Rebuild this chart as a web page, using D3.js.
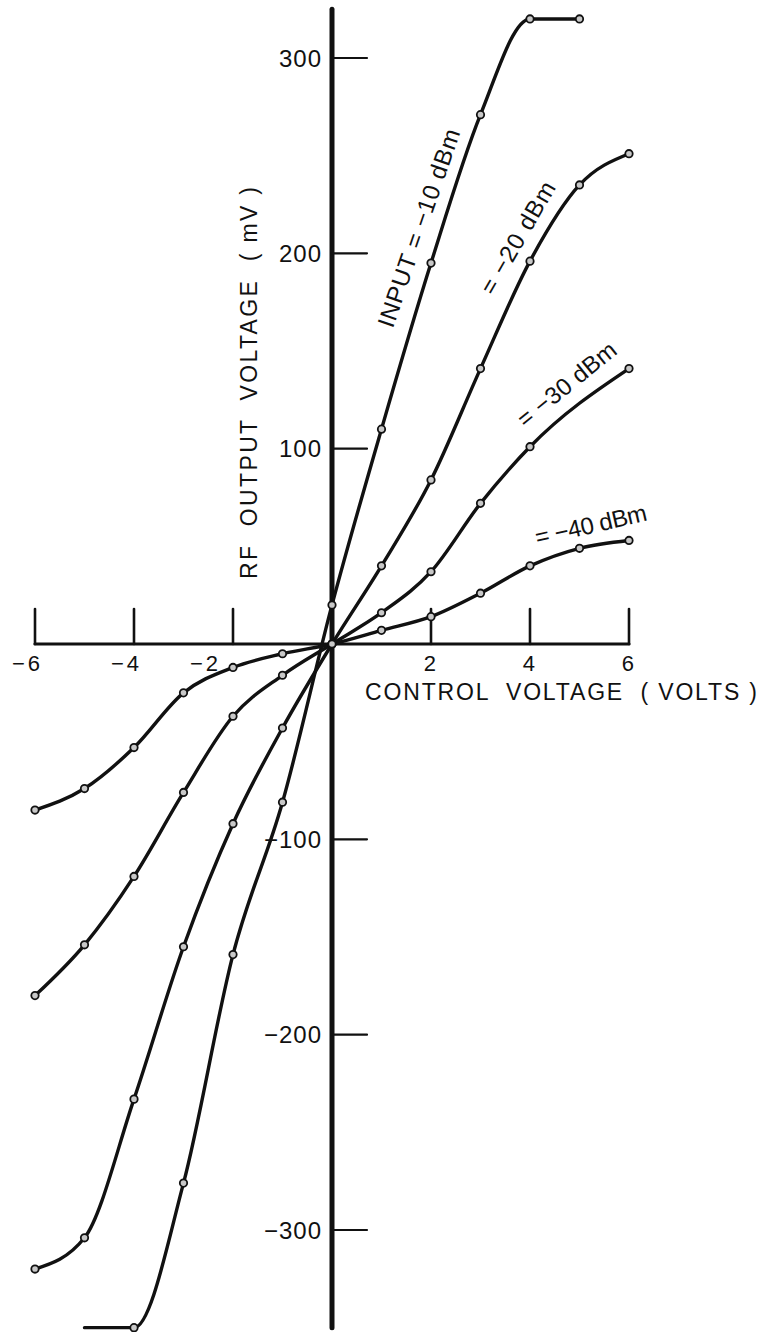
<!DOCTYPE html>
<html>
<head>
<meta charset="utf-8">
<script src="https://cdn.jsdelivr.net/npm/d3@7"></script>
<style>
  html, body { margin: 0; background: #fff; }
  svg { display: block; }
</style>
</head>
<body>
<script>
// Control voltage sweep (volts) and measured RF output (mV) for each input level
const volts = [-6, -5, -4, -3, -2, -1, 0, 1, 2, 3, 4, 5, 6];
const levelNames = ["INPUT = −10 dBm", "= −20 dBm", "= −30 dBm", "= −40 dBm"];
const outM10 = [null, -350, -350, -276, -159, -81, 20, 110, 195, 271, 320, 320, null];
const outM20 = [-320, -304, -233, -155, -92, -43, 0, 40, 84, 141, 196, 235, 251];
const outM30 = [-180, -154, -119, -76, -37, -16, 0, 16, 37, 72, 101, null, 141];
const outM40 = [-85, -74, -53, -25, -12, -5, 0, 7, 14, 26, 40, 49, 53];
const seriesValues = [outM10, outM20, outM30, outM40];

// the saturated tail of the −10 dBm curve runs on without a plotted point
const unmarkedPoints = [[0, -5]];

// axis ticks and their labels
const xTicks = [-6, -4, -2, 2, 4, 6];
const xTickLabels = ["−6", "−4", "−2", "2", "4", "6"];
const xTickLabelShift = [0, 0, -20, 0, 0, 0]; // keeps "−2" clear of the −40 dBm curve
const yTicks = [300, 200, 100, -100, -200, -300];
const yTickLabels = ["300", "200", "100", "−100", "−200", "−300"];

// curve captions: anchor in data units, rotation in degrees, drawn length
const captions = [
  { x: 1.75, y: 213, angle: -71, len: 208 },
  { x: 3.75, y: 208, angle: -60, len: 126 },
  { x: 4.74, y: 133, angle: -39, len: 120 },
  { x: 5.23, y: 61,  angle: -13, len: 114 }
];

const W = 768, H = 1332;
const ink = "#111";
const font = "'Liberation Sans', Arial, sans-serif";

const svg = d3.select("body").append("svg")
  .attr("width", W).attr("height", H)
  .attr("viewBox", `0 0 ${W} ${H}`);

const x = d3.scaleLinear().domain([-6, 6]).range([35, 629]);
const y = d3.scaleLinear().domain([-300, 300]).range([1230, 58]);
const yAxisExtent = [-350, 325];

// ---- axes ----
const axes = svg.append("g").attr("stroke", ink).attr("stroke-linecap", "round");

axes.append("line")
  .attr("x1", x(0)).attr("x2", x(0))
  .attr("y1", y(yAxisExtent[1])).attr("y2", y(yAxisExtent[0]))
  .attr("stroke-width", 5);

axes.append("line")
  .attr("x1", x(-6)).attr("x2", x(6))
  .attr("y1", y(0)).attr("y2", y(0))
  .attr("stroke-width", 3.2);

axes.selectAll(".xt").data(xTicks).join("line")
  .attr("x1", d => x(d)).attr("x2", d => x(d))
  .attr("y1", y(0)).attr("y2", y(0) - 35)
  .attr("stroke-width", 2.6);

axes.selectAll(".yt").data(yTicks).join("line")
  .attr("x1", x(0)).attr("x2", x(0) + 35)
  .attr("y1", d => y(d)).attr("y2", d => y(d))
  .attr("stroke-width", 2.2);

// tick labels
svg.append("g").selectAll("text").data(xTicks).join("text")
  .attr("x", (d, i) => x(d) + 8 + xTickLabelShift[i])
  .attr("y", y(0) + 27)
  .attr("text-anchor", "end")
  .attr("font-family", font).attr("font-size", 22)
  .attr("letter-spacing", 3)
  .attr("fill", ink)
  .style("white-space", "pre")
  .text((d, i) => xTickLabels[i]);

svg.append("g").selectAll("text").data(yTicks).join("text")
  .attr("x", x(0) - 10)
  .attr("y", d => y(d))
  .attr("dy", "0.36em")
  .attr("text-anchor", "end")
  .attr("font-family", font).attr("font-size", 24)
  .attr("letter-spacing", 1)
  .attr("fill", ink)
  .text((d, i) => yTickLabels[i]);

// axis titles
svg.append("text")
  .attr("x", 365).attr("y", 700)
  .attr("font-family", font).attr("font-size", 23)
  .attr("fill", ink)
  .style("white-space", "pre")
  .attr("textLength", 392).attr("lengthAdjust", "spacing")
  .text("CONTROL  VOLTAGE  ( VOLTS )");

svg.append("text")
  .attr("transform", "translate(257,383) rotate(-90)")
  .attr("text-anchor", "middle")
  .attr("font-family", font).attr("font-size", 23)
  .attr("fill", ink)
  .style("white-space", "pre")
  .attr("textLength", 392).attr("lengthAdjust", "spacing")
  .text("RF  OUTPUT  VOLTAGE  ( mV )");

// ---- response curves ----
const line = d3.line()
  .x(d => x(d.v)).y(d => y(d.mv))
  .curve(d3.curveMonotoneX);

const series = seriesValues.map((vals, si) =>
  volts.map((v, i) => ({ v, mv: vals[i], si }))
       .filter(d => d.mv !== null));

svg.append("g").selectAll("path").data(series).join("path")
  .attr("d", line)
  .attr("fill", "none")
  .attr("stroke", ink)
  .attr("stroke-width", 3.4)
  .attr("stroke-linejoin", "round")
  .attr("stroke-linecap", "round");

const isUnmarked = d => unmarkedPoints.some(([s, v]) => s === d.si && v === d.v);

svg.append("g").selectAll("circle")
  .data(series.flat().filter(d => !isUnmarked(d)))
  .join("circle")
  .attr("cx", d => x(d.v)).attr("cy", d => y(d.mv))
  .attr("r", 3.7)
  .attr("fill", "#c8c8c8")
  .attr("stroke", ink)
  .attr("stroke-width", 1.8);

// captions along each curve
svg.append("g").selectAll("text").data(captions).join("text")
  .attr("transform", d => `translate(${x(d.x)},${y(d.y)}) rotate(${d.angle})`)
  .attr("text-anchor", "middle")
  .attr("dy", "0.35em")
  .attr("font-family", font).attr("font-size", 24)
  .attr("fill", ink)
  .style("white-space", "pre")
  .attr("textLength", d => d.len).attr("lengthAdjust", "spacing")
  .text((d, i) => levelNames[i]);
</script>
</body>
</html>
